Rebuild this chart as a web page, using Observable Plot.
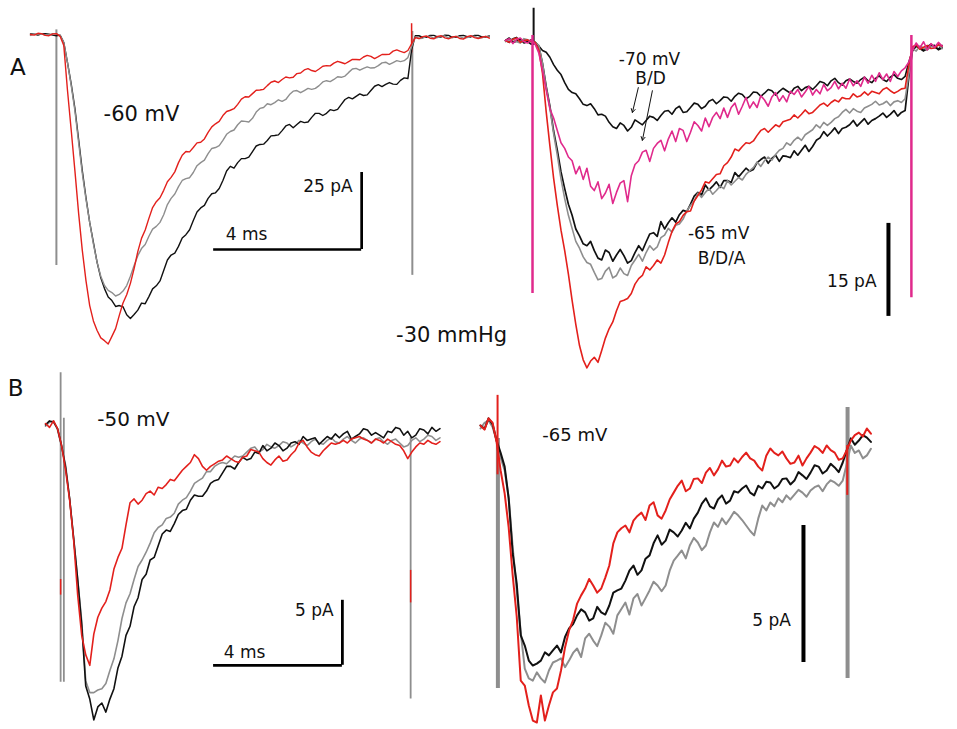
<!DOCTYPE html>
<html>
<head>
<meta charset="utf-8">
<script src="https://cdn.jsdelivr.net/npm/d3@7"></script>
<script src="https://cdn.jsdelivr.net/npm/@observablehq/plot@0.6"></script>
<style>
  html, body { margin: 0; padding: 0; background: #fff; }
  #fig { position: relative; width: 957px; height: 729px; overflow: hidden; background: #fff; }
</style>
</head>
<body>
<div id="fig"></div>
<script>
// ---------------- DATA (time in ms, current in pA) ----------------
// Panel A, left (-60 mV)
const tAL = [0,0.1,0.2,0.3,0.4,0.5,0.6,0.7,0.8,0.9,1,1.1,1.2,1.3,1.4,1.5,1.6,1.7,1.8,1.9,2,2.1,2.2,2.3,2.4,2.5,2.6,2.7,2.8,2.9,3,3.1,3.2,3.3,3.4,3.5,3.6,3.7,3.8,3.9,4,4.1,4.2,4.3,4.4,4.5,4.6,4.7,4.8,4.9,5,5.1,5.2,5.3,5.4,5.5,5.6,5.7,5.8,5.9,6,6.1,6.2,6.3,6.4,6.5,6.6,6.7,6.8,6.9,7,7.1,7.2,7.3,7.4,7.5,7.6,7.7,7.8,7.9,8,8.1,8.2,8.3,8.4,8.5,8.6,8.7,8.8,8.9,9,9.1,9.2,9.3,9.4,9.5,9.6,9.7,9.8,9.9,10,10.1,10.2,10.3,10.4,10.5,10.6,10.7,10.8,10.9,11,11.1,11.2,11.3,11.4,11.5,11.6,11.7,11.8,11.9,12,12.1,12.2,12.3,12.4];
const alBlack = [0.2,0.1,-0.2,0.2,0.3,0.1,-0.2,-0.4,-0.2,-2.6,
  -9.1,-16,-24,-34,-44.2,-53,-61,-67.5,-74,-79,
  -82.5,-85.2,-86.4,-88.3,-88,-88.4,-91,-92.2,-90.9,-89.5,
  -87.2,-87.4,-85.1,-82.6,-81.6,-80,-76.6,-73.2,-71.6,-71,
  -68.8,-66.1,-65,-63.4,-60.4,-57.6,-56.3,-55.5,-53.2,-51.7,
  -51.4,-50,-47.4,-44.3,-42.8,-43.4,-41.6,-40.3,-40.3,-39.8,
  -38,-36.2,-35.7,-35.6,-34.4,-32.9,-32.8,-32.6,-31.2,-29.7,
  -29.2,-30.3,-29.2,-28.2,-28.6,-28.4,-26.9,-25.6,-25.6,-26.3,
  -25.6,-24.4,-24.7,-24.3,-22.7,-21.1,-20.4,-20.9,-20.1,-19.3,
  -19.8,-19.6,-18.2,-16.8,-16.3,-16.9,-16.2,-15.6,-16.1,-16.2,
  -14.9,-14.1,-14.3,-5,-0.4,-0.4,-0.9,-0.9,-0.3,-0.3,
  -0.8,-0.8,-0.2,-0.3,-0.9,-0.9,-0.4,-0.3,-0.7,-0.8,
  -0.3,-0.3,-0.8,-0.8,-0.5];
const alGray = [-0.3,0.1,0.2,0.1,-0.2,-0.1,0.3,0.2,-0.3,-2.6,
  -9.1,-16.5,-24.7,-35,-45.1,-53.5,-61,-68,-74,-78.5,
  -81.5,-83.1,-83.8,-84.9,-84.4,-83.3,-81.5,-78.5,-75,-71.8,
  -69.5,-68.2,-65.5,-63.2,-62.3,-61,-58.5,-55.2,-53.2,-51.8,
  -49.4,-47.4,-46.8,-46.5,-44.8,-42.6,-41.6,-40.8,-38.7,-37,
  -36.7,-36.1,-34.4,-32.4,-31.5,-31,-29.3,-28.1,-28.2,-28.4,
  -27.2,-25.2,-24,-23.7,-22.5,-22.8,-22.1,-21.2,-21.7,-21.1,
  -19.5,-18.4,-18.2,-18.9,-18.2,-17.5,-17.8,-17.5,-16.6,-15.4,
  -15,-15.3,-14.6,-13.7,-13.9,-13.5,-12.3,-11.2,-11,-11.6,
  -11,-10.5,-10.9,-10.8,-10.1,-9.2,-9,-9.7,-9.1,-8.5,
  -8.8,-8.5,-7.5,-4,-0.8,-1.3,-1.2,-0.6,-0.6,-1.2,
  -1,-0.5,-0.5,-1.1,-1.1,-0.6,-0.7,-1.2,-1,-0.5,
  -0.6,-1.1,-1.1,-0.6,-0.8];
const alRed = [0,-0.2,0.4,0.3,-0.3,-0.4,0.2,0.3,-0.6,-3.6,
  -18.2,-31,-44.2,-58,-70.1,-80,-88,-93,-96.1,-98.5,
  -99.4,-100.5,-98,-95.5,-91.2,-87.2,-84.5,-80.8,-76,-70.5,
  -66.2,-63.5,-59.7,-56.2,-54.3,-53,-50.6,-47.8,-46.4,-44.6,
  -41.6,-39.2,-38,-38.1,-36.7,-35.2,-35,-33.9,-31.8,-30,
  -29,-28.2,-26.3,-25,-24.6,-24.1,-22.7,-21,-20.2,-20.3,
  -19.2,-18.1,-18,-17.8,-16.6,-15.5,-15.1,-15.6,-14.6,-13.8,
  -14.1,-13.9,-12.7,-12.5,-11.5,-11.1,-11.7,-12,-11.2,-10.3,
  -10.1,-10.2,-9.3,-8.7,-9.1,-9.5,-8.8,-8.1,-8.1,-8.2,
  -7.3,-6.8,-7.1,-7.8,-7.2,-6.5,-6.5,-6.4,-5.4,-5,
  -5.5,-5.9,-5.2,-3,-1,-1.3,-0.7,-0.5,-1.2,-1.4,
  -0.6,-0.4,-1.1,-1.4,-0.8,-0.6,-1.3,-1.5,-0.7,-0.4,
  -1,-1.3,-0.9,-0.6,-1.2];
const alArtifacts = [
  {t: 0.70, top: 1.5, bottom: -75, trace: "gray"},
  {t: 10.32, top: 1.0, bottom: -78.2, trace: "gray"},
  {t: 10.30, top: 3.5, bottom: -6, trace: "red"}
];

// Panel A, right (-70 mV B/D and -65 mV B/D/A)
const tAR = [0,0.1,0.2,0.3,0.4,0.5,0.6,0.7,0.8,0.9,1,1.1,1.2,1.3,1.4,1.5,1.6,1.7,1.8,1.9,2,2.1,2.2,2.3,2.4,2.5,2.6,2.7,2.8,2.9,3,3.1,3.2,3.3,3.4,3.5,3.6,3.7,3.8,3.9,4,4.1,4.2,4.3,4.4,4.5,4.6,4.7,4.8,4.9,5,5.1,5.2,5.3,5.4,5.5,5.6,5.7,5.8,5.9,6,6.1,6.2,6.3,6.4,6.5,6.6,6.7,6.8,6.9,7,7.1,7.2,7.3,7.4,7.5,7.6,7.7,7.8,7.9,8,8.1,8.2,8.3,8.4,8.5,8.6,8.7,8.8,8.9,9,9.1,9.2,9.3,9.4,9.5,9.6,9.7,9.8,9.9,10,10.1,10.2,10.3,10.4,10.5,10.6,10.7,10.8,10.9,11,11.1,11.2,11.3,11.4,11.5,11.6,11.7,11.8];
const arBlack70 = [0,-0.3,0.3,0.5,-0.3,0.1,-0.2,-0.6,-0.3,-0.9,
  -1.6,-1.9,-2.7,-3.9,-4.8,-5.5,-6.8,-7.9,-8.4,-8.6,
  -9.4,-10.3,-10.5,-10.2,-11,-12,-11.9,-12.2,-13.2,-13.9,
  -14.2,-13.3,-13.7,-14.6,-14,-12.8,-13.2,-13.6,-12.9,-12.2,
  -12.4,-12.9,-12.1,-11.4,-11.3,-11.9,-11,-10.6,-11.6,-11.5,
  -10.8,-10.1,-10.3,-11,-10.6,-9.8,-9.5,-10.2,-9.7,-9.1,
  -9.2,-9.8,-9,-8.5,-8.7,-9.4,-9,-8.3,-8.4,-9,
  -8.5,-7.9,-8.1,-8.8,-8.2,-7.7,-8.1,-8.5,-7.7,-7.4,
  -8.1,-7.6,-7.4,-7.9,-7.3,-6.6,-6.8,-7.3,-6.5,-6.1,
  -6.8,-7.2,-6.5,-6.2,-6.6,-6.9,-6.3,-5.9,-6.5,-6.8,
  -6.1,-5.7,-6.3,-6.6,-5.9,-5.5,-6.1,-6.3,-5.8,-3.5,
  -1.6,-0.9,-1.3,-1.7,-1,-0.6,-1.1,-1.4,-0.8];
const arPink = [0,0.3,-0.5,0.2,0.4,-0.2,-0.4,0.1,-0.6,-2,
  -4.8,-8,-11,-12.5,-14.5,-16.5,-17.4,-18.8,-19.4,-21.5,
  -20.3,-22.4,-20.6,-23.5,-24.2,-22.8,-25.5,-24.6,-23.2,-26.3,
  -24.5,-23,-22.6,-26,-21.8,-20,-19.4,-18,-17.7,-19.5,
  -17.4,-16.6,-16.1,-17.8,-15.9,-14.6,-16.3,-14.2,-14.5,-16.3,
  -14.8,-13.1,-13.7,-14.6,-12.5,-13.9,-12.4,-11.6,-12.6,-10.9,
  -12.4,-10.8,-10.1,-11.9,-10.6,-9.2,-10.9,-9.9,-10.8,-8.9,
  -9.6,-10.6,-9.1,-8.4,-9.8,-8.9,-9.9,-8.2,-8.7,-7.9,
  -9.1,-8.3,-7.4,-8.8,-7.9,-8.6,-7.1,-8.1,-7.6,-6.6,
  -7.8,-6.9,-7.7,-6.2,-7.3,-6.5,-7.4,-5.9,-6.9,-5.6,
  -6.6,-5.2,-6.3,-5.4,-6.6,-5,-5.8,-4.9,-4.4,-3.5,
  -1.6,-0.4,-1.2,-0.2,-1.5,-0.5,-1.1,-0.3,-0.9];
const arBlack65 = [0,0.4,-0.3,-0.1,0.2,-0.4,-0.2,0.1,-0.3,-0.9,
  -3.7,-7.4,-10.6,-14.6,-17.7,-21.2,-23.9,-26.4,-28.2,-30.4,
  -31.5,-32.8,-33.1,-32.4,-33.9,-35.1,-35.4,-33.8,-34.2,-35.6,
  -34.6,-33.7,-34.7,-35.9,-35.5,-34.2,-33.1,-33.9,-32.5,-31.2,
  -31,-31.6,-29.2,-30.4,-29.4,-28.6,-29.3,-28.1,-27.4,-27.6,
  -26.4,-25.1,-24.5,-24.9,-23.3,-24.1,-23.5,-22.8,-23.7,-22.6,
  -22.6,-22.9,-21.3,-22,-21.3,-20.6,-21.1,-20.8,-19.7,-19.2,
  -18.8,-19.8,-19,-18.5,-19.5,-18.6,-18.7,-18.9,-17.8,-18.5,
  -17.7,-16.9,-17.9,-17.1,-16.1,-15.7,-14.7,-15.4,-14.8,-14.1,
  -15,-14.2,-14,-13.6,-12.9,-13.8,-13.2,-12.6,-13.5,-12.9,
  -12.6,-12.2,-11.7,-12.4,-11.9,-11.3,-12.2,-11.6,-11.3,-6,
  -1.6,-0.9,-1.1,-1.6,-1.4,-0.9,-0.8,-1.5,-1.2];
const arGray = [-0.2,0.1,0.2,-0.2,-0.4,0.3,0.1,-0.2,-0.3,-0.8,
  -3.7,-7.6,-10.9,-15,-18.5,-22.3,-25.5,-28.2,-30.3,-32.4,
  -33.5,-34.9,-35.8,-36.1,-37.4,-38.6,-38.4,-37.2,-36.6,-38.3,
  -37.9,-36.7,-37.6,-37.9,-36.3,-35.4,-34.5,-35.6,-34.2,-33.1,
  -33.8,-33.3,-31.8,-31.4,-30.3,-30.9,-29.8,-29.6,-28.8,-27.5,
  -26.6,-25.9,-24.6,-25.3,-24.5,-23.9,-24.8,-24.2,-23.5,-23.9,
  -22.6,-23.3,-22.7,-22.1,-22.5,-21.6,-21,-20.5,-19.6,-20.3,
  -19.4,-18.8,-19.3,-18.4,-17.7,-17.4,-16.5,-16.9,-16.1,-15.6,
  -16.1,-15.2,-14.8,-14.4,-13.6,-14.1,-13.2,-13.7,-13.2,-12.6,
  -12.3,-11.6,-11.1,-11.7,-11,-11.4,-11.6,-10.9,-10.6,-10.3,
  -9.8,-10.4,-10.2,-9.8,-10.5,-9.9,-9.7,-10,-9.4,-5.5,
  -1.3,-1.7,-0.9,-1.2,-1.5,-1,-1,-0.7,-1.3];
const arRed = [0,-0.3,0.2,0.4,-0.3,0,0.1,-0.2,-0.3,-1.5,
  -5.3,-11.5,-17,-22.2,-26.6,-30.6,-33.9,-37.7,-41.9,-45.8,
  -49.2,-51.5,-52.8,-51.7,-51.1,-51.9,-50,-48,-46.5,-45.4,
  -43.6,-42.1,-41.9,-41.6,-40.8,-39.3,-38.4,-37.9,-36.5,-37,
  -36.3,-35.4,-35.9,-34.6,-32.6,-30.8,-29.6,-29.2,-28.2,-27.6,
  -27.5,-25.9,-25,-24.1,-22.8,-23,-22.3,-21.6,-21.5,-20.2,
  -19.7,-18.8,-17.5,-17.8,-17.1,-16.5,-16.6,-16.2,-15.3,-14.5,
  -14.2,-14.8,-14.2,-13.6,-13.9,-13.1,-12.9,-12.7,-12,-12.5,
  -11.9,-11.2,-11.8,-11.6,-11,-10.4,-10.1,-10.6,-10,-9.6,
  -9.9,-9.2,-9.4,-9.4,-8.6,-9.1,-8.9,-8.3,-8.8,-8.2,
  -8.4,-8.6,-7.9,-7.6,-8.1,-8.5,-8.2,-7.8,-7.7,-4,
  -1,-0.7,-1.4,-1.1,-0.8,-1.3,-1.2,-0.7,-0.9];
const arArtifacts = [
  {t: 0.73, top: 0.8, bottom: -40.8, trace: "pink"},
  {t: 0.76, top: 5.2, bottom: -0.8, trace: "black"},
  {t: 10.97, top: 0.8, bottom: -41.5, trace: "pink"}
];
const arArrows = [
  {x1: 3.59, y1: -7.6, x2: 3.43, y2: -11.6},
  {x1: 3.97, y1: -8.1, x2: 3.70, y2: -16.1}
];

// Panel B, left (-50 mV)
const tBL = [0,0.125,0.25,0.375,0.5,0.625,0.75,0.875,1,1.125,1.25,1.375,1.5,1.625,1.75,1.875,2,2.125,2.25,2.375,2.5,2.625,2.75,2.875,3,3.125,3.25,3.375,3.5,3.625,3.75,3.875,4,4.125,4.25,4.375,4.5,4.625,4.75,4.875,5,5.125,5.25,5.375,5.5,5.625,5.75,5.875,6,6.125,6.25,6.375,6.5,6.625,6.75,6.875,7,7.125,7.25,7.375,7.5,7.625,7.75,7.875,8,8.125,8.25,8.375,8.5,8.625,8.75,8.875,9,9.125,9.25,9.375,9.5,9.625,9.75,9.875,10,10.125,10.25,10.375,10.5,10.625,10.75,10.875,11,11.125,11.25,11.375,11.5,11.625,11.75,11.875,12,12.125,12.25];
const blBlack = [-0.1,0.2,0.1,-0.4,-1.7,-3.4,-5.8,-8.9,-12,-15.5,
  -20.2,-21.2,-22.8,-21.8,-21.5,-22.2,-21.2,-20.4,-18.8,-17.9,
  -16.3,-15.6,-14.1,-13.4,-12,-11.6,-10.5,-10.3,-9.4,-8.5,
  -8.2,-8.3,-7.7,-7,-6.7,-6.6,-5.9,-5.5,-5.6,-5.6,
  -5.2,-4.6,-4.4,-4.3,-3.8,-3.3,-3.3,-3.5,-3,-2.6,
  -2.8,-2.7,-2.2,-2.3,-1.7,-2.1,-1.9,-1.5,-1.7,-2.1,
  -1.9,-1.5,-1.4,-1.6,-1,-1.3,-1.2,-1.1,-1.6,-1.3,
  -1,-1.2,-0.8,-1.1,-0.8,-0.6,-1.2,-1,-0.8,-0.4,
  -0.5,-0.9,-0.7,-0.9,-1.1,-0.6,-0.7,-0.3,-0.4,-0.9,
  -0.6,-1.1,-0.9,-0.4,-0.5,-0.8,-0.3,-0.6,-0.4];
const blGray = [-0.2,0.1,0.2,-0.5,-1.8,-3.2,-5.8,-8.8,-12,-15.2,
  -19.8,-20.7,-20.7,-20.5,-20.4,-20,-19,-18.1,-16.7,-15,
  -13.8,-13.1,-12,-11,-10.5,-9.9,-9.2,-8.4,-8,-7.8,
  -7.3,-7.2,-6.9,-6.2,-5.9,-5.7,-5.2,-4.6,-4.4,-4.2,
  -3.7,-3.7,-3.3,-3.1,-3,-3.1,-2.8,-2.5,-2.6,-2.5,
  -2.2,-1.9,-1.8,-2.2,-2,-1.6,-1.8,-1.9,-1.7,-1.4,
  -1.5,-1.8,-1.6,-1.3,-1.5,-1.7,-1.4,-1.2,-1.5,-1.6,
  -1.3,-1.1,-1.4,-1.5,-1.2,-1,-1.3,-1.5,-1.2,-1.1,
  -1.3,-1.5,-1.2,-1.1,-1.4,-1.6,-1.3,-1.2,-1.5,-1.8,
  -1.7,-1.3,-1.1,-1.4,-1.2,-0.9,-1,-1.3,-1.1];
const blRed = [0,-0.3,0.2,-0.4,-1.7,-3.6,-5.9,-9,-13.2,-16.3,
  -17.8,-18.6,-16.2,-14.9,-14.2,-13.7,-12.8,-11.2,-10.3,-9.6,
  -7.8,-6.1,-5.8,-6.2,-5.9,-5.4,-5.2,-5.5,-4.9,-5,
  -4.7,-4.3,-4.4,-4,-3.6,-3.3,-3,-2.4,-2.7,-3.3,
  -3.6,-3.3,-3.1,-2.9,-2.8,-2.5,-2.7,-2.9,-3,-2.6,
  -2.5,-2,-2.1,-2.2,-2.7,-3,-3.2,-2.8,-2.5,-2.9,
  -2.8,-2.4,-2.1,-1.5,-1.3,-1.8,-2.2,-2.4,-2.5,-2.1,
  -1.8,-1.5,-1.6,-1.5,-1.3,-1.5,-1.2,-1.1,-1,-1.2,
  -1.3,-1.5,-1.2,-1.3,-1.5,-1.2,-1.4,-1.6,-1.7,-2.1,
  -2.7,-2.2,-1.8,-1.5,-1.6,-1.3,-1.5,-1.6,-1.4];
const blArtifacts = [
  {t: 0.47, top: 3.9, bottom: -19.9, trace: "gray"},
  {t: 0.57, top: 0.4, bottom: -19.9, trace: "gray"},
  {t: 0.47, top: -12, bottom: -13.2, trace: "red"},
  {t: 11.34, top: -1.1, bottom: -21.2, trace: "gray"},
  {t: 11.34, top: -11.3, bottom: -13.8, trace: "red"}
];

// Panel B, right (-65 mV)
const tBR = [0,0.125,0.25,0.375,0.5,0.625,0.75,0.875,1,1.125,1.25,1.375,1.5,1.625,1.75,1.875,2,2.125,2.25,2.375,2.5,2.625,2.75,2.875,3,3.125,3.25,3.375,3.5,3.625,3.75,3.875,4,4.125,4.25,4.375,4.5,4.625,4.75,4.875,5,5.125,5.25,5.375,5.5,5.625,5.75,5.875,6,6.125,6.25,6.375,6.5,6.625,6.75,6.875,7,7.125,7.25,7.375,7.5,7.625,7.75,7.875,8,8.125,8.25,8.375,8.5,8.625,8.75,8.875,9,9.125,9.25,9.375,9.5,9.625,9.75,9.875,10,10.125,10.25,10.375,10.5,10.625,10.75,10.875,11,11.125,11.25,11.375,11.5,11.625,11.75,11.875,12,12.125];
const brBlack = [0,-0.12,0.26,0.05,-0.55,-1,-1.5,-2.66,-4.67,-5.77,
  -7.66,-8.03,-8.58,-8.76,-8.69,-8.58,-8.28,-8.39,-8.21,-8.03,
  -8.28,-7.72,-7.41,-7.25,-6.93,-6.71,-6.82,-7.12,-7.04,-6.62,
  -6.82,-6.9,-6.57,-6.1,-6.02,-5.95,-5.66,-5.3,-5.11,-5.45,
  -5.29,-4.86,-4.74,-4.3,-4.01,-4.35,-4.2,-3.8,-3.9,-4.05,
  -3.83,-3.55,-3.76,-3.4,-3.18,-2.85,-2.66,-2.95,-3.03,-2.7,
  -2.55,-2.85,-2.74,-2.4,-2.45,-2.3,-2.19,-2.45,-2.55,-2.2,
  -2.3,-2.05,-2.08,-2.3,-2.19,-1.95,-1.93,-2.15,-2.01,-1.7,
  -1.82,-1.95,-1.72,-1.45,-1.5,-1.75,-1.64,-1.4,-1.53,-1.7,
  -1.35,-0.9,-0.47,-0.7,-0.55,-0.35,-0.44,-0.6];
const brGray = [-0.11,0.1,0.18,-0.05,-0.55,-1.17,-1.64,-2.63,-4.45,-6.02,
  -7.55,-8.87,-9.23,-9.31,-9.01,-9.23,-9.38,-8.94,-8.65,-8.58,
  -8.5,-8.82,-8.58,-8.3,-8.14,-8.45,-7.77,-7.6,-7.85,-8.05,
  -7.66,-7.2,-7.34,-7.6,-6.93,-6.7,-6.46,-6.9,-6.31,-6.15,
  -6.57,-6.3,-6.02,-5.7,-5.84,-6.05,-5.84,-5.3,-4.93,-4.75,
  -4.56,-4.85,-4.38,-4.1,-4.27,-4.55,-4.38,-3.9,-3.54,-3.7,
  -3.39,-3.6,-3.39,-3.15,-3.28,-3.45,-3.65,-3.85,-4.01,-3.4,
  -2.92,-3.1,-2.81,-2.95,-2.66,-2.8,-2.55,-2.7,-2.52,-2.35,
  -2.45,-2.6,-2.37,-2.25,-2.19,-2.4,-2.15,-2,-2.08,-2.2,
  -2.01,-1.4,-0.73,-1,-0.91,-1.2,-1.09,-0.85];
const brRed = [0,-0.15,0.26,0.1,-0.6,-1.64,-2.48,-3.72,-5.47,-6.97,
  -9.31,-9.49,-10.22,-10.77,-10.84,-9.85,-10.77,-10.22,-9.74,-9.6,
  -8.94,-8.1,-7.48,-7.1,-6.5,-6.2,-5.95,-5.6,-5.84,-6.1,
  -5.95,-5.55,-5.11,-4.3,-3.9,-3.75,-3.65,-3.9,-3.47,-3.3,
  -3.18,-3.45,-2.92,-2.8,-3.28,-3.4,-3.1,-2.7,-2.45,-2.2,
  -2.01,-2.4,-2.3,-1.95,-1.93,-2.1,-1.72,-1.55,-1.82,-1.6,
  -1.28,-1.5,-1.46,-1.2,-1.35,-1.15,-0.99,-1.2,-1.28,-1.5,
  -1.64,-1.1,-0.84,-1,-1.09,-0.95,-1.2,-1.4,-1.35,-1.1,
  -1.46,-1.2,-0.99,-0.75,-0.84,-1,-0.73,-0.9,-0.99,-1.25,
  -1.2,-0.9,-0.55,-0.35,-0.26,-0.4,-0.11,-0.3];
const brArtifacts = [
  {t: 0.54, top: -0.47, bottom: -9.6, trace: "gray"},
  {t: 0.53, top: 1.1, bottom: -1.8, trace: "red"},
  {t: 11.4, top: 0.66, bottom: -9.23, trace: "gray"},
  {t: 11.39, top: -0.73, bottom: -2.55, trace: "red"}
];

// ---------------- RENDERING ----------------
const W = 957, H = 729;
const COLORS = {red: "#e3201c", gray: "#8e8e8e", black: "#111111", pink: "#e02a8c"};
const FONT = "DejaVu Sans";
const fig = document.getElementById("fig");

const series = (ts, vals) => ts.map((t, i) => ({t, I: vals[i]}));

function panel(cal, marks) {
  // cal: pixel of t=0, px per ms, pixel of I=0, px per pA
  const svg = Plot.plot({
    width: W, height: H, margin: 0,
    x: {domain: [-cal.x0 / cal.pxT, (W - cal.x0) / cal.pxT], axis: null},
    y: {domain: [-(H - cal.y0) / cal.pxI, cal.y0 / cal.pxI], axis: null},
    style: {background: "transparent", position: "absolute", left: "0px", top: "0px", overflow: "visible"},
    marks
  });
  fig.appendChild(svg);
}
const trace = (ts, vals, color, w) =>
  Plot.line(series(ts, vals), {x: "t", y: "I", stroke: COLORS[color], strokeWidth: w, strokeLinejoin: "round", curve: "linear"});
const artifacts = (arts, color, w) =>
  Plot.ruleX(arts.filter(d => d.trace === color), {x: "t", y1: "top", y2: "bottom", stroke: COLORS[color], strokeWidth: w});
const label = (t, I, text, size) =>
  Plot.text([{t, I, text}], {x: "t", y: "I", text: "text", fontSize: size, fontFamily: FONT, fill: "#111"});
const vbar = (t, a, b, w) => Plot.ruleX([{t, a, b}], {x: "t", y1: "a", y2: "b", stroke: "#000", strokeWidth: w});
const hbar = (I, a, b, w) => Plot.ruleY([{I, a, b}], {y: "I", x1: "a", x2: "b", stroke: "#000", strokeWidth: w});

// A left
panel({x0: 30, pxT: 37, y0: 34, pxI: 3.08}, [
  artifacts(alArtifacts, "gray", 2),
  artifacts(alArtifacts, "red", 1.5),
  trace(tAL, alBlack, "black", 1.4),
  trace(tAL, alGray, "gray", 1.4),
  trace(tAL, alRed, "red", 1.4),
  hbar(-69.8, 4.95, 8.95, 2.7),
  vbar(8.95, -44.8, -69.8, 2.7),
  label(-0.34, -10.6, "A", 23),
  label(3.0, -26.0, "-60 mV", 21),
  label(8.04, -49.3, "25 pA", 17),
  label(5.84, -64.9, "4 ms", 17),
  label(11.38, -97.7, "-30 mmHg", 21)
]);

// A right
panel({x0: 505, pxT: 37, y0: 40, pxI: 6.2}, [
  artifacts(arArtifacts, "black", 2),
  trace(tAR, arBlack70, "black", 1.6),
  trace(tAR, arBlack65, "black", 1.7),
  trace(tAR, arGray, "gray", 1.6),
  trace(tAR, arRed, "red", 1.6),
  trace(tAR, arPink, "pink", 1.6),
  artifacts(arArtifacts, "pink", 2.5),
  Plot.arrow(arArrows, {x1: "x1", y1: "y1", x2: "x2", y2: "y2", stroke: "#111", strokeWidth: 1, headLength: 6}),
  vbar(10.35, -29.5, -44.5, 4),
  label(3.89, -3.0, "-70 mV", 17),
  label(3.92, -6.2, "B/D", 17),
  label(5.76, -31.2, "-65 mV", 17),
  label(5.84, -35.1, "B/D/A", 17),
  label(9.36, -38.8, "15 pA", 17)
]);

// B left
panel({x0: 45, pxT: 32.2, y0: 423, pxI: 13}, [
  artifacts(blArtifacts, "gray", 1.8),
  artifacts(blArtifacts, "red", 1.5),
  trace(tBL, blGray, "gray", 1.6),
  trace(tBL, blBlack, "black", 1.6),
  trace(tBL, blRed, "red", 1.6),
  hbar(-18.6, 5.22, 9.22, 2.8),
  vbar(9.22, -13.6, -18.6, 2.8),
  label(-0.93, 2.65, "B", 23),
  label(2.73, 0.27, "-50 mV", 20),
  label(8.35, -14.4, "5 pA", 17),
  label(6.18, -17.6, "4 ms", 17)
]);

// B right
panel({x0: 480, pxT: 32.2, y0: 425, pxI: 27.4}, [
  artifacts(brArtifacts, "gray", 4),
  trace(tBR, brGray, "gray", 2),
  trace(tBR, brBlack, "black", 2),
  trace(tBR, brRed, "red", 2),
  artifacts(brArtifacts, "red", 2),
  vbar(10.03, -3.65, -8.65, 4),
  label(2.93, -0.35, "-65 mV", 18),
  label(9.04, -7.12, "5 pA", 17)
]);
</script>
</body>
</html>
